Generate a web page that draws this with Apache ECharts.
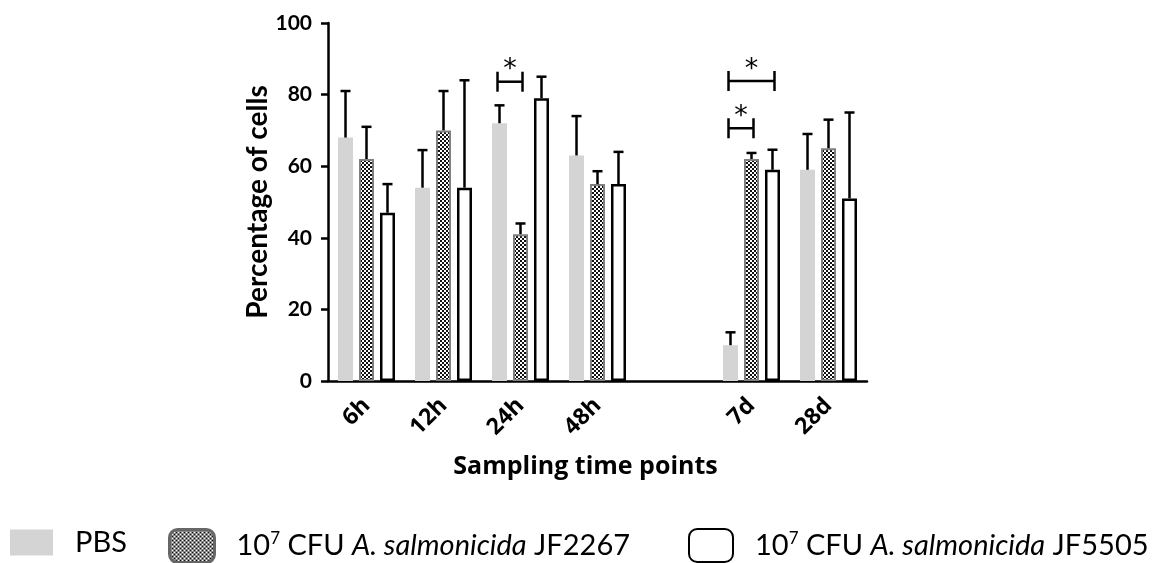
<!DOCTYPE html>
<html>
<head>
<meta charset="utf-8">
<script src="https://cdn.jsdelivr.net/npm/echarts@6/dist/echarts.min.js"></script>
<style>
  html, body { margin: 0; padding: 0; background: #fff; }
  #chart { width: 1162px; height: 563px; }
</style>
</head>
<body>
<div id="chart"></div>
<script>
const categories = ['6h', '12h', '24h', '48h', '', '7d', '28d'];
const seriesNames = ['PBS', '10⁷ CFU A. salmonicida JF2267', '10⁷ CFU A. salmonicida JF5505'];

const pbsMean = [68, 54, 72, 63, null, 10, 59];
const pbsErr = [13, 10.5, 5, 11, null, 3.6, 10];
const jf2267Mean = [62, 70, 41, 55, null, 62, 65];
const jf2267Err = [9, 11, 3, 3.6, null, 1.7, 8];
const jf5505Mean = [47, 54, 79, 55, null, 59, 51];
const jf5505Err = [8, 30, 6, 9, null, 5.6, 24];

// significance brackets: category, bar from, bar to, height
const sigCategory = [2, 5, 5];
const sigFrom = [0, 0, 0];
const sigTo = [1, 2, 1];
const sigLevel = [83.6, 83.8, 70.6];

const font = 'Lato, "Open Sans", sans-serif';
const wideFont = '"Open Sans", Lato, sans-serif';
const catGap = 0.26, barGap = 0.4;
const step = (1 - catGap) / (3 + 2 * barGap) * (1 + barGap);

// checkered fill
const pat = document.createElement('canvas');
pat.width = 4; pat.height = 4;
const pc = pat.getContext('2d');
pc.fillStyle = '#fff'; pc.fillRect(0, 0, 4, 4);
pc.fillStyle = '#111';
pc.fillRect(0, 0, 2, 2); pc.fillRect(2, 2, 2, 2);

const chart = echarts.init(document.getElementById('chart'));

function errData(mean, err) {
  let out = [];
  mean.forEach((m, i) => { if (m !== null) out.push([i, m, err[i]]); });
  return out;
}

function errSeries(idx, mean, err) {
  return {
    type: 'custom',
    z: 5,
    data: errData(mean, err),
    encode: { x: 0, y: 1 },
    renderItem: (params, api) => {
      const c = api.coord([api.value(0), api.value(1)]);
      const t = api.coord([api.value(0), api.value(1) + api.value(2)]);
      const bw = api.size([1, 0])[0];
      const x = c[0] + (idx - 1) * step * bw;
      const st = { stroke: '#000', lineWidth: 2.5 };
      return {
        type: 'group',
        children: [
          { type: 'line', shape: { x1: x, y1: c[1], x2: x, y2: t[1] }, style: st },
          { type: 'line', shape: { x1: x - 5, y1: t[1], x2: x + 5, y2: t[1] }, style: st }
        ]
      };
    }
  };
}

const sigData = sigCategory.map((c, i) => [c, sigLevel[i], sigFrom[i], sigTo[i]]);

const legendText = {
  fontFamily: font, fontSize: 29, color: '#000',
  rich: {
    pad: { width: 17 },
    sup: { fontFamily: font, fontSize: 17, padding: [0, 0, 14, 0] },
    it: { fontFamily: font, fontSize: 29, fontStyle: 'italic' }
  }
};

const option = {
  animation: false,
  grid: { left: 328, right: 295, top: 23, bottom: 182 },
  legend: [
    { data: [seriesNames[0]], left: 10, top: 528, itemWidth: 43, itemHeight: 26, icon: 'rect' },
    { data: [{ name: seriesNames[1], itemStyle: { borderColor: '#666', borderWidth: 3 } }], left: 168, top: 528, itemWidth: 45, itemHeight: 33 },
    { data: [seriesNames[2]], left: 688, top: 528, itemWidth: 44, itemHeight: 33 }
  ].map((l) => Object.assign(l, {
    selectedMode: false,
    padding: 0,
    formatter: (n) => '{pad|}' + n.replace('10⁷', '10{sup|7}').replace('A. salmonicida', '{it|A. salmonicida}'),
    textStyle: legendText
  })),
  xAxis: {
    type: 'category',
    data: categories,
    name: 'Sampling time points',
    nameLocation: 'middle',
    nameGap: 73,
    nameTextStyle: { fontFamily: wideFont, fontSize: 25, fontWeight: 'bold', color: '#000', padding: [0, 24, 0, 0] },
    axisLine: { lineStyle: { color: '#000', width: 2.5 } },
    axisTick: { show: false },
    axisLabel: { rotate: 45, margin: 21, fontFamily: wideFont, fontSize: 23, fontWeight: 'bold', color: '#000', interval: 0 }
  },
  yAxis: {
    type: 'value',
    min: 0, max: 100, interval: 20,
    name: 'Percentage of cells',
    nameLocation: 'middle',
    nameGap: 55,
    nameTextStyle: { fontFamily: font, fontSize: 28, fontWeight: 'bold', color: '#000' },
    splitLine: { show: false },
    axisLine: { show: true, lineStyle: { color: '#000', width: 2.5 } },
    axisTick: { show: true, length: 7, lineStyle: { color: '#000', width: 2.5 } },
    axisLabel: { margin: 16, fontFamily: font, fontSize: 21, fontWeight: 'bold', color: '#000' }
  },
  series: [
    {
      name: seriesNames[0], type: 'bar', data: pbsMean,
      barGap: '40%', barCategoryGap: '26%',
      itemStyle: { color: '#d4d4d4' }
    },
    {
      name: seriesNames[1], type: 'bar', data: jf2267Mean,
      itemStyle: { color: { image: pat, repeat: 'repeat' }, borderColor: '#808080', borderWidth: 2 }
    },
    {
      name: seriesNames[2], type: 'bar', data: jf5505Mean,
      itemStyle: { color: '#fff', borderColor: '#000', borderWidth: 2.5 }
    },
    errSeries(0, pbsMean, pbsErr),
    errSeries(1, jf2267Mean, jf2267Err),
    errSeries(2, jf5505Mean, jf5505Err),
    {
      type: 'custom',
      z: 6,
      data: sigData,
      encode: { x: 0, y: 1 },
      renderItem: (params, api) => {
        const c = api.coord([api.value(0), api.value(1)]);
        const bw = api.size([1, 0])[0];
        const x1 = c[0] + (api.value(2) - 1) * step * bw - 2;
        const x2 = c[0] + (api.value(3) - 1) * step * bw + 2;
        const y = c[1];
        const st = { stroke: '#000', lineWidth: 2.5 };
        return {
          type: 'group',
          children: [
            { type: 'line', shape: { x1: x1, y1: y, x2: x2, y2: y }, style: st },
            { type: 'line', shape: { x1: x1, y1: y - 10, x2: x1, y2: y + 10 }, style: st },
            { type: 'line', shape: { x1: x2, y1: y - 10, x2: x2, y2: y + 10 }, style: st },
            { type: 'text', x: (x1 + x2) / 2, y: y + 2, style: { text: '*', font: '27px DejaVu Sans', fill: '#000', align: 'center', verticalAlign: 'bottom' } }
          ]
        };
      }
    }
  ]
};

chart.setOption(option);
</script>
</body>
</html>
